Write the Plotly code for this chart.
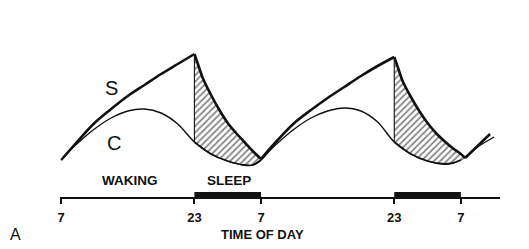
import numpy as np
import plotly.graph_objects as go

# ---------------- data (hours after 07:00 of day 1; levels in arbitrary units) ----------------
S_rise1_h = [0, 2, 4, 6, 8, 10, 12, 14, 16]
S_rise1_v = [38, 57, 75, 89, 102, 113, 124, 134, 144]
S_fall1_h = [16, 16.5, 17, 18, 19, 20, 21, 22, 23, 24]
S_fall1_v = [144, 132, 120, 103, 88, 75, 65, 56, 47, 39]
S_rise2_h = [24, 26, 28, 30, 32, 34, 36, 38, 40]
S_rise2_v = [39, 58, 75, 88, 100, 111, 122, 132, 141]
S_fall2_h = [40, 40.5, 41, 42, 43, 44, 45, 46, 47, 48, 48.5]
S_fall2_v = [141, 129, 117, 101, 87, 75, 65, 57, 50, 44, 40]
S_rise3_h = [48.5, 50, 51.5]
S_rise3_v = [40, 52, 64]

C_h = [0, 1, 2, 4, 6, 8, 10, 12, 14, 16, 18, 20, 22, 23, 24, 25, 26, 28, 30, 32, 34,
       36, 38, 40, 42, 44, 46, 47, 48, 49, 50, 52]
C_v = [38, 47, 55, 69, 80, 87, 89, 85, 74, 56, 44, 37, 33, 33, 38, 47, 55, 69, 80, 87, 90,
       87, 76, 56, 44, 37, 34, 35, 38, 44, 51, 61]

sleep_on = [16, 40]
sleep_off = [24, 48]
tick_hours = [0, 16, 24, 40, 48]
tick_labels = ["7", "23", "7", "23", "7"]

# ---------------- layout constants ----------------
W, H = 529, 249
X0_PX, PX_PER_H, AXIS_Y_PX = 58.5, 8.375, 198
R0, R1 = -0.1, 52.7
d0 = (X0_PX + R0 * PX_PER_H) / W
d1 = (X0_PX + R1 * PX_PER_H) / W
FONT = "Liberation Sans, Arial, sans-serif"
INK = "#111111"

fig = go.Figure()

C_h_arr = np.array(C_h)
C_v_arr = np.array(C_v)

# C process (continuous)
fig.add_trace(go.Scatter(x=C_h, y=C_v, mode="lines", line=dict(color=INK, width=1.4, shape="spline", smoothing=0.9),
                         hoverinfo="skip", showlegend=False))

# hatched sleep areas: C segment then S decay filled to it
for (on, off, fh, fv) in [(sleep_on[0], sleep_off[0], S_fall1_h, S_fall1_v),
                          (sleep_on[1], sleep_off[1], S_fall2_h, S_fall2_v)]:
    m = (C_h_arr >= on) & (C_h_arr <= fh[-1])
    fig.add_trace(go.Scatter(x=C_h_arr[m], y=C_v_arr[m], mode="lines",
                             line=dict(color=INK, width=1.8, shape="spline", smoothing=0.9),
                             hoverinfo="skip", showlegend=False))
    fig.add_trace(go.Scatter(x=fh, y=fv, mode="lines", fill="tonexty",
                             fillcolor="rgba(0,0,0,0)",
                             fillpattern=dict(shape="/", fgcolor="#000000", bgcolor="white", size=4.5, solidity=0.38),
                             line=dict(color=INK, width=2.6, shape="spline", smoothing=0.9),
                             hoverinfo="skip", showlegend=False))
    # vertical edge at sleep onset
    c_on = C_v_arr[C_h_arr == on][0]
    fig.add_trace(go.Scatter(x=[on, on], y=[fv[0], c_on], mode="lines",
                             line=dict(color=INK, width=1.1), hoverinfo="skip", showlegend=False))

# S process rising segments
for hh, vv in [(S_rise1_h, S_rise1_v), (S_rise2_h, S_rise2_v), (S_rise3_h, S_rise3_v)]:
    fig.add_trace(go.Scatter(x=hh, y=vv, mode="lines",
                             line=dict(color=INK, width=2.6, shape="spline", smoothing=1.0),
                             hoverinfo="skip", showlegend=False))

# sleep bars on the time axis
for on, off in zip(sleep_on, sleep_off):
    fig.add_shape(type="rect", xref="x", yref="y", x0=on, x1=off, y0=0, y1=6,
                  fillcolor=INK, line=dict(width=0))

def px(x, y):
    return x / W, 1 - y / H

annots = [
    ("S", 109, 88, 20, "normal"),
    ("C", 112, 143, 20, "normal"),
    ("WAKING", 128, 180, 13.5, "bold"),
    ("SLEEP", 227, 180, 13.5, "bold"),
    ("TIME OF DAY", 261, 234, 13, "bold"),
    ("A", 13, 234, 16, "normal"),
]
for t, x, y, s, w in annots:
    ax_, ay_ = px(x, y)
    fig.add_annotation(text=t, x=ax_, y=ay_, xref="paper", yref="paper", showarrow=False,
                       xanchor="center", yanchor="middle",
                       font=dict(family=FONT, size=s, color=INK, weight=w))

fig.update_layout(
    width=W, height=H, margin=dict(l=0, r=0, t=0, b=0),
    paper_bgcolor="white", plot_bgcolor="white",
    xaxis=dict(domain=[d0, d1], range=[R0, R1], anchor="free", position=(H - AXIS_Y_PX) / H,
               showline=True, linecolor=INK, linewidth=1.5, showgrid=False, zeroline=False,
               ticks="outside", ticklen=5, tickwidth=1.5, tickcolor=INK,
               ticklabelstandoff=3,
               tickvals=tick_hours, ticktext=tick_labels,
               tickfont=dict(family=FONT, size=13, color=INK, weight="bold")),
    yaxis=dict(domain=[0, 1], range=[AXIS_Y_PX - H, AXIS_Y_PX], visible=False),
    showlegend=False,
)

fig.write_html("out.html")
